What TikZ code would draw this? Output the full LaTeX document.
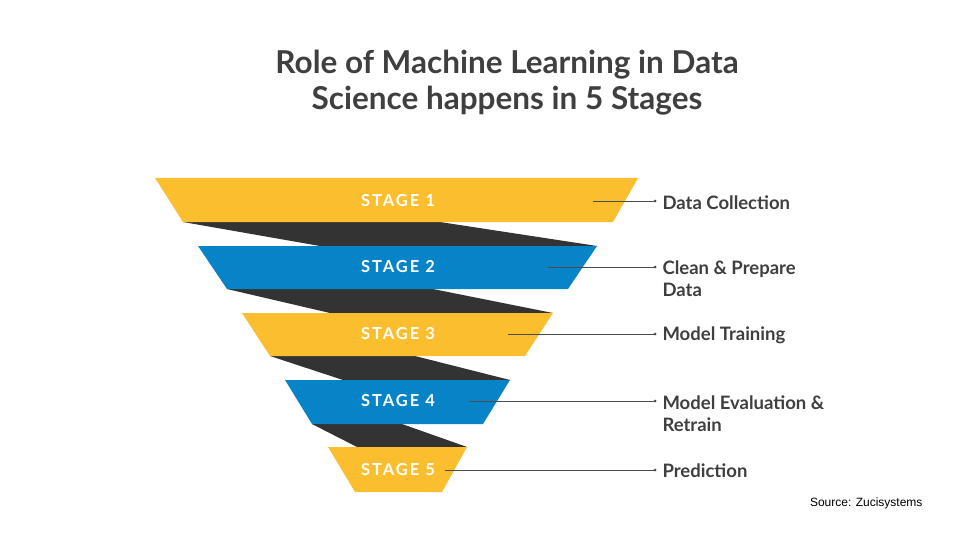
\documentclass[tikz,border=0pt]{standalone}
\usepackage{fontspec}
\setmainfont{Lato}
\newfontfamily\srcfont{Liberation Sans}
\usetikzlibrary{positioning,calc}
\definecolor{stgyellow}{HTML}{FBBE2E}
\definecolor{stgblue}{HTML}{0784C8}
\definecolor{stgdark}{HTML}{333333}
\definecolor{txtgray}{HTML}{3F3F3F}
\tikzset{
  stagetxt/.style={text=white,font=\bfseries\fontsize{16.5}{19}\selectfont\addfontfeatures{LetterSpace=12}},
  labeltxt/.style={anchor=west,align=left,text=txtgray,font=\bfseries\fontsize{18.5}{22}\selectfont},
  pointer/.style={draw=black!70,line width=0.6pt}
}
\begin{document}
\begin{tikzpicture}[x=1pt,y=-1pt]
    \useasboundingbox (0,0) rectangle (960,540);
    % Title
    \node[text=txtgray,align=center,font=\bfseries\fontsize{31.5}{36}\selectfont] (title) at (507,83)
        {Role of Machine Learning in Data\\Science happens in 5 Stages};

    % Dark folds
    \fill[stgdark] (183,222) -- (440,222) -- (597,246) -- (320,246) -- cycle;
    \fill[stgdark] (227,289) -- (433,289) -- (553,313) -- (330,313) -- cycle;
    \fill[stgdark] (270,356) -- (415,356) -- (510,380) -- (343,380) -- cycle;
    \fill[stgdark] (312,424) -- (402,424) -- (467,447) -- (357,447) -- cycle;

    % Stages
    \fill[stgyellow] (155,178) -- (638,178) -- (613,222) -- (183,222) -- cycle;
    \fill[stgblue] (198,246) -- (597,246) -- (568,289) -- (227,289) -- cycle;
    \fill[stgyellow] (242,313) -- (553,313) -- (525,356) -- (270,356) -- cycle;
    \fill[stgblue] (285,380) -- (510,380) -- (483,424) -- (312,424) -- cycle;
    \fill[stgyellow] (328,447) -- (467,447) -- (442,492) -- (355,492) -- cycle;

    \node[stagetxt] (s1) at (398,201) {STAGE 1};
    \node[stagetxt] (s2) at (398,267) {STAGE 2};
    \node[stagetxt] (s3) at (398,334) {STAGE 3};
    \node[stagetxt] (s4) at (398,401) {STAGE 4};
    \node[stagetxt] (s5) at (398,470) {STAGE 5};

    % Labels
    \node[labeltxt] (l1) at (659,203) {Data Collection};
    \node[labeltxt] (l2) at (659,279) {Clean \& Prepare\\Data};
    \node[labeltxt] (l3) at (659,335) {Model Training};
    \node[labeltxt] (l4) at (659,414) {Model Evaluation \&\\Retrain};
    \node[labeltxt] (l5) at (659,471) {Prediction};

    % Pointers
    \foreach \i/\xa/\ya in {1/593/201,2/548/267,3/508/334,4/470/401,5/445/470} {
        \coordinate (p\i) at (\xa,\ya);
        \coordinate (q\i) at (655,\ya);
        \draw[pointer] (p\i) -- (q\i);
        \fill[black!70] (q\i) circle (1.5);
    }

    \node[anchor=east,font=\srcfont\fontsize{12}{14}\selectfont] (src) at (926,503) {Source: Zucisystems};
\end{tikzpicture}
\end{document}
